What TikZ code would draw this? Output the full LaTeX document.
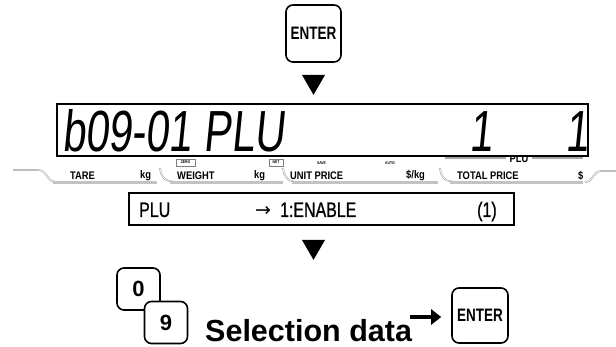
\documentclass[tikz,border=0pt]{standalone}
\usepackage{fontspec}
\setmainfont{Liberation Sans}
\newfontfamily\lcdfont{Liberation Sans}[FakeStretch=0.72,FakeSlant=0.1]
\newfontfamily\msgfont{Liberation Sans}[FakeStretch=0.76,FakeBold=0.8]
\newfontfamily\labelfont{Liberation Sans}[FakeStretch=0.85]
\newfontfamily\keyfont{Liberation Sans}[FakeStretch=0.75]
\newfontfamily\symfont{DejaVu Sans}
\usepackage{xcolor}
\definecolor{railgray}{RGB}{195,195,195}
\usepackage{tikz}
\usetikzlibrary{
  arrows.meta,
  positioning,
  shapes.geometric
}

\begin{document}
\begin{tikzpicture}[x=1pt, y=-1pt,
  keybox/.style={
    draw, line width=1.6pt, rounded corners=7pt, fill=white,
    inner sep=0pt, font=\keyfont\bfseries\fontsize{18}{18}\selectfont
  },
  digitkey/.style={
    keybox, minimum width=43pt, minimum height=42pt,
    font=\bfseries\fontsize{22}{22}\selectfont
  },
  marker/.style={
    regular polygon, regular polygon sides=3, shape border rotate=180,
    fill=black, inner sep=0pt, minimum size=26.6pt
  },
  lcdbox/.style={
    draw, line width=1.3pt, fill=white, inner sep=0pt
  },
  lcdlabel/.style={
    inner sep=0pt, anchor=west,
    font=\labelfont\bfseries\fontsize{11}{11}\selectfont
  },
  tinylabel/.style={
    inner sep=0pt, font=\labelfont\bfseries\fontsize{4}{4}\selectfont
  },
  rail/.style={draw=railgray, line width=2.5pt},
  swoosh/.style={draw=gray!80, line width=0.5pt, double=white,
    double distance=0.7pt},
  bigarrow/.style={
    -{Triangle[length=10pt, width=15pt]}, line width=4.5pt
  }
]
\useasboundingbox (0,0) rectangle (616,347);

% first key and step marker
\node[keybox, minimum width=55pt, minimum height=57pt] (enter1) at (313.5,33.5) {ENTER};
\node[marker] (mark1) at (313.5,81.6) {};

% label row under the display
\draw[swoosh] (13,170) -- (38,170) .. controls (47,170) and (47,182) .. (56,182);
\draw[rail] (53,182.5) -- (157,182.5);
\draw[swoosh] (160,168) .. controls (161,178) and (166,182) .. (177,182);
\draw[rail] (170,182.5) -- (283,182.5);
\draw[swoosh] (283,168) .. controls (284,178) and (289,182) .. (298,182);
\draw[rail] (292,182.5) -- (438,182.5);
\draw[swoosh] (440,168) .. controls (441,178) and (446,182) .. (456,182);
\draw[rail] (450,182.5) -- (583,182.5);
\draw[swoosh] (585,182) .. controls (594,182) and (592,171) .. (602,171) -- (616,171);

\node[lcdlabel] (tare) at (70,175.5) {TARE};
\node[lcdlabel] (kg1) at (140,175.5) {kg};
\node[lcdlabel] (weight) at (177,175.5) {WEIGHT};
\node[lcdlabel] (kg2) at (254,175.5) {kg};
\node[lcdlabel] (unitprice) at (290,175.5) {UNIT PRICE};
\node[lcdlabel] (perkg) at (406,175.5) {\$/kg};
\node[lcdlabel] (totalprice) at (457,175.5) {TOTAL PRICE};
\node[lcdlabel] (dollar) at (578,175.5) {\$};

\node[tinylabel, draw=gray, line width=0.4pt, minimum width=19pt, minimum height=7pt] (zero) at (185.5,162.5) {ZERO};
\node[tinylabel, draw=gray, line width=0.4pt, minimum width=14pt, minimum height=7pt] (net) at (276,162.5) {NET};
\node[tinylabel] (save) at (321.5,163) {SAVE};
\node[tinylabel] (auto) at (390,163) {AUTO};

\node[lcdlabel, anchor=center] (plulabel) at (519,158.5) {PLU};
\draw[draw=gray!70, line width=1.5pt] (445,158) -- (506,158);
\draw[draw=gray!70, line width=1.5pt] (532,158) -- (583,158);

% display
\node[lcdbox, minimum width=531pt, minimum height=52pt] (lcd) at (322.5,130) {};
\node[inner sep=0pt, anchor=base west, font=\lcdfont\fontsize{58}{58}\selectfont] (lcdtext) at (62,152) {b09-01 PLU};
\node[inner sep=0pt, anchor=base, font=\lcdfont\fontsize{58}{58}\selectfont] (lcdone) at (481,152) {1};
\node[inner sep=0pt, anchor=base, font=\lcdfont\fontsize{58}{58}\selectfont] (lcdtwo) at (577,152) {1};

% message line
\node[lcdbox, line width=1.2pt, minimum width=385pt, minimum height=32pt] (msg) at (321.5,209) {};
\node[inner sep=0pt, anchor=base west, font=\msgfont\fontsize{21}{21}\selectfont] (msgname) at (139,217) {PLU};
\node[inner sep=0pt, anchor=base west, font=\msgfont\fontsize{21}{21}\selectfont] (msgvalue) at (255,217) {{\symfont\fontsize{19}{19}\selectfont →}\hspace{9pt}1:ENABLE};
\node[inner sep=0pt, anchor=base west, font=\msgfont\fontsize{21}{21}\selectfont] (msgcode) at (477,217) {(1)};

\node[marker] (mark2) at (313.5,246.6) {};

% selection keys
\node[digitkey] (key0) at (138.5,289) {0};
\node[digitkey] (key9) at (166,322.5) {9};
\node[inner sep=0pt, anchor=base west, font=\bfseries\fontsize{30.5}{30.5}\selectfont] (sel) at (205,342) {Selection data};
\node[keybox, minimum width=56pt, minimum height=55pt] (enter2) at (480,315.5) {ENTER};

\draw[bigarrow] ([xshift=-2pt, yshift=-1.5pt]sel.east |- enter2.west) -- ([xshift=-10pt, yshift=-1.5pt]enter2.west);

\end{tikzpicture}
\end{document}
